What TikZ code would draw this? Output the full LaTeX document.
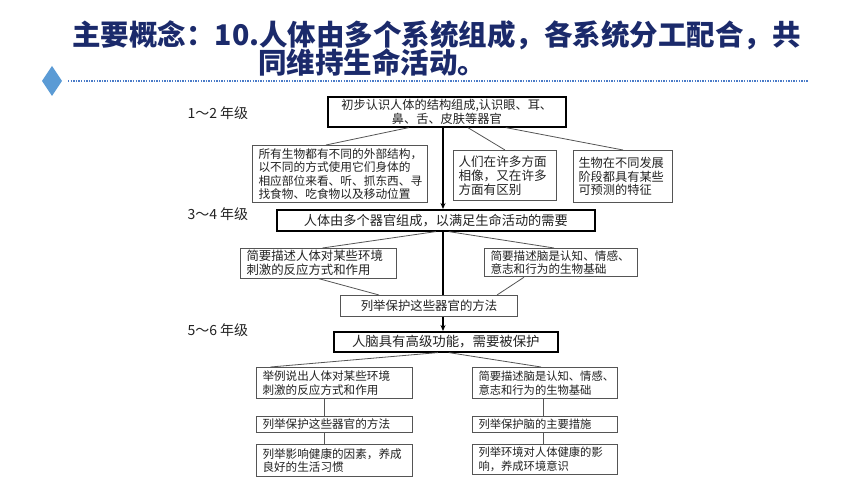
\documentclass[tikz,border=0pt]{standalone}
\usepackage{fontspec}
\setmainfont{Noto Sans CJK SC}
\usetikzlibrary{arrows.meta}
\definecolor{navy}{HTML}{1B2A6B}
\definecolor{diamondblue}{HTML}{5B9BD5}
\definecolor{dotblue}{HTML}{4A7BC8}
\definecolor{boxgray}{HTML}{555555}
\definecolor{txt}{HTML}{222222}
\tikzset{
  mainbox/.style={draw=black, line width=1.6pt, fill=white, text=txt, inner xsep=6pt, inner ysep=1pt, align=center, anchor=north west},
  subbox/.style={draw=boxgray, line width=1pt, fill=white, text=txt, inner xsep=6pt, inner ysep=2pt, align=left, anchor=north west},
  link/.style={draw=boxgray, line width=0.8pt},
  spineline/.style={draw=black, line width=1.6pt},
  spinearrow/.style={spineline, -{Stealth[length=6pt,width=5pt]}},
  grade/.style={text=txt, font=\fontsize{14}{16}\selectfont, anchor=west},
  titletext/.style={text=navy, font=\fontsize{28.5}{30}\selectfont\bfseries, anchor=west, inner sep=0pt},
}
\begin{document}
\begin{tikzpicture}[x=1pt,y=-1pt]
\useasboundingbox (0,0) rectangle (860,484);
% title
\node[titletext] (t1) at (72,35) {主要概念：10.人体由多个系统组成，各系统分工配合，共};
\node[titletext] (t2) at (258,62) {同维持生命活动。};
\fill[diamondblue] (42,81) -- (52,66) -- (62,81) -- (52,96) -- cycle;
\coordinate (dl) at (68,81);
\coordinate (dr) at (808,81);
\draw[dotblue, line width=2pt, dash pattern=on 1.3pt off 1.3pt] (dl) -- (dr);

% grade labels
\node[grade] (g1) at (184,113) {1～2 年级};
\node[grade] (g2) at (184,214) {3～4 年级};
\node[grade] (g3) at (184,330) {5～6 年级};

% level 1-2
\node[mainbox, font=\fontsize{12.2}{14}\selectfont, text width=226pt, minimum height=30pt] (top) at (327,96)
  {初步认识人体的结构组成,认识眼、耳、\\鼻、舌、皮肤等器官};
\node[subbox, font=\fontsize{11.7}{13.4}\selectfont, text width=163pt, minimum height=57pt] (A) at (252,145)
  {所有生物都有不同的外部结构，\\以不同的方式使用它们身体的\\相应部位来看、听、抓东西、寻\\找食物、吃食物以及移动位置};
\node[subbox, font=\fontsize{12.6}{14.2}\selectfont, inner xsep=5pt, text width=93pt, minimum height=50pt] (B) at (453,150)
  {人们在许多方面\\相像，又在许多\\方面有区别};
\node[subbox, font=\fontsize{12.2}{13.6}\selectfont, inner xsep=5pt, text width=89pt, minimum height=52pt] (C) at (573,150)
  {生物在不同发展\\阶段都具有某些\\可预测的特征};

% level 3-4
\node[mainbox, font=\fontsize{13.2}{15}\selectfont, text width=306pt, minimum height=21pt] (m34) at (276,209)
  {人体由多个器官组成，以满足生命活动的需要};
\node[subbox, font=\fontsize{12.4}{14}\selectfont, text width=144pt, minimum height=28pt] (L34) at (240,248)
  {简要描述人体对某些环境\\刺激的反应方式和作用};
\node[subbox, font=\fontsize{11.6}{13.5}\selectfont, text width=141pt, minimum height=28pt] (R34) at (484,248)
  {简要描述脑是认知、情感、\\意志和行为的生物基础};
\node[subbox, font=\fontsize{12.4}{14}\selectfont, align=center, text width=165pt, minimum height=21pt] (M34) at (340,295)
  {列举保护这些器官的方法};

% level 5-6
\node[mainbox, font=\fontsize{13.4}{15}\selectfont, text width=212pt, minimum height=20pt] (m56) at (333,331)
  {人脑具有高级功能，需要被保护};
\node[subbox, font=\fontsize{11.6}{13.6}\selectfont, text width=144pt, minimum height=31pt] (L1) at (256,367)
  {举例说出人体对某些环境\\刺激的反应方式和作用};
\node[subbox, font=\fontsize{11.6}{13.6}\selectfont, text width=144pt, minimum height=16pt] (L2) at (256,416)
  {列举保护这些器官的方法};
\node[subbox, font=\fontsize{11.6}{13.6}\selectfont, text width=144pt, minimum height=32pt] (L3) at (256,444)
  {列举影响健康的因素，养成\\良好的生活习惯};
\node[subbox, font=\fontsize{11.3}{13.6}\selectfont, text width=133pt, minimum height=31pt] (R1) at (472,367)
  {简要描述脑是认知、情感、\\意志和行为的生物基础};
\node[subbox, font=\fontsize{11.3}{13.6}\selectfont, text width=133pt, minimum height=16pt] (R2) at (472,416)
  {列举保护脑的主要措施};
\node[subbox, font=\fontsize{11.3}{13.6}\selectfont, text width=133pt, minimum height=30pt] (R3) at (472,444)
  {列举环境对人体健康的影\\响，养成环境意识};

% spine
\coordinate (spine) at (443,0);
\draw[spinearrow] (top.south -| spine) -- (m34.north -| spine);
\draw[spineline] (m34.south -| spine) -- (M34.north -| spine);
\draw[spinearrow] (M34.south -| spine) -- (m56.north -| spine);

% links level 1-2
\draw[link] ([xshift=-38pt]top.south) -- ([xshift=-14pt]A.north);
\draw[link] ([xshift=21pt]top.south) -- (B.north);
\draw[link] ([xshift=59pt]top.south) -- (C.north);
% links level 3-4
\draw[link] (m34.south) -- ([xshift=4pt]L34.north);
\draw[link] ([xshift=13pt]m34.south) -- ([xshift=-7pt]R34.north);
\draw[link] (L34.south) -- ([xshift=-50pt]M34.north);
\draw[link] ([xshift=-37pt]R34.south) -- ([xshift=68pt]M34.north);
% links level 5-6
\draw[link] ([xshift=-8pt]m56.south) -- ([xshift=-64pt]L1.north);
\draw[link] ([xshift=3pt]m56.south) -- ([xshift=-4pt]R1.north);
\draw[link] ([xshift=-10pt]L1.south) -- ([xshift=-10pt]L2.north);
\draw[link] ([xshift=-10pt]L2.south) -- ([xshift=-10pt]L3.north);
\draw[link] ([xshift=-2pt]R1.south) -- ([xshift=-2pt]R2.north);
\draw[link] ([xshift=-2pt]R2.south) -- ([xshift=-2pt]R3.north);
\end{tikzpicture}
\end{document}
